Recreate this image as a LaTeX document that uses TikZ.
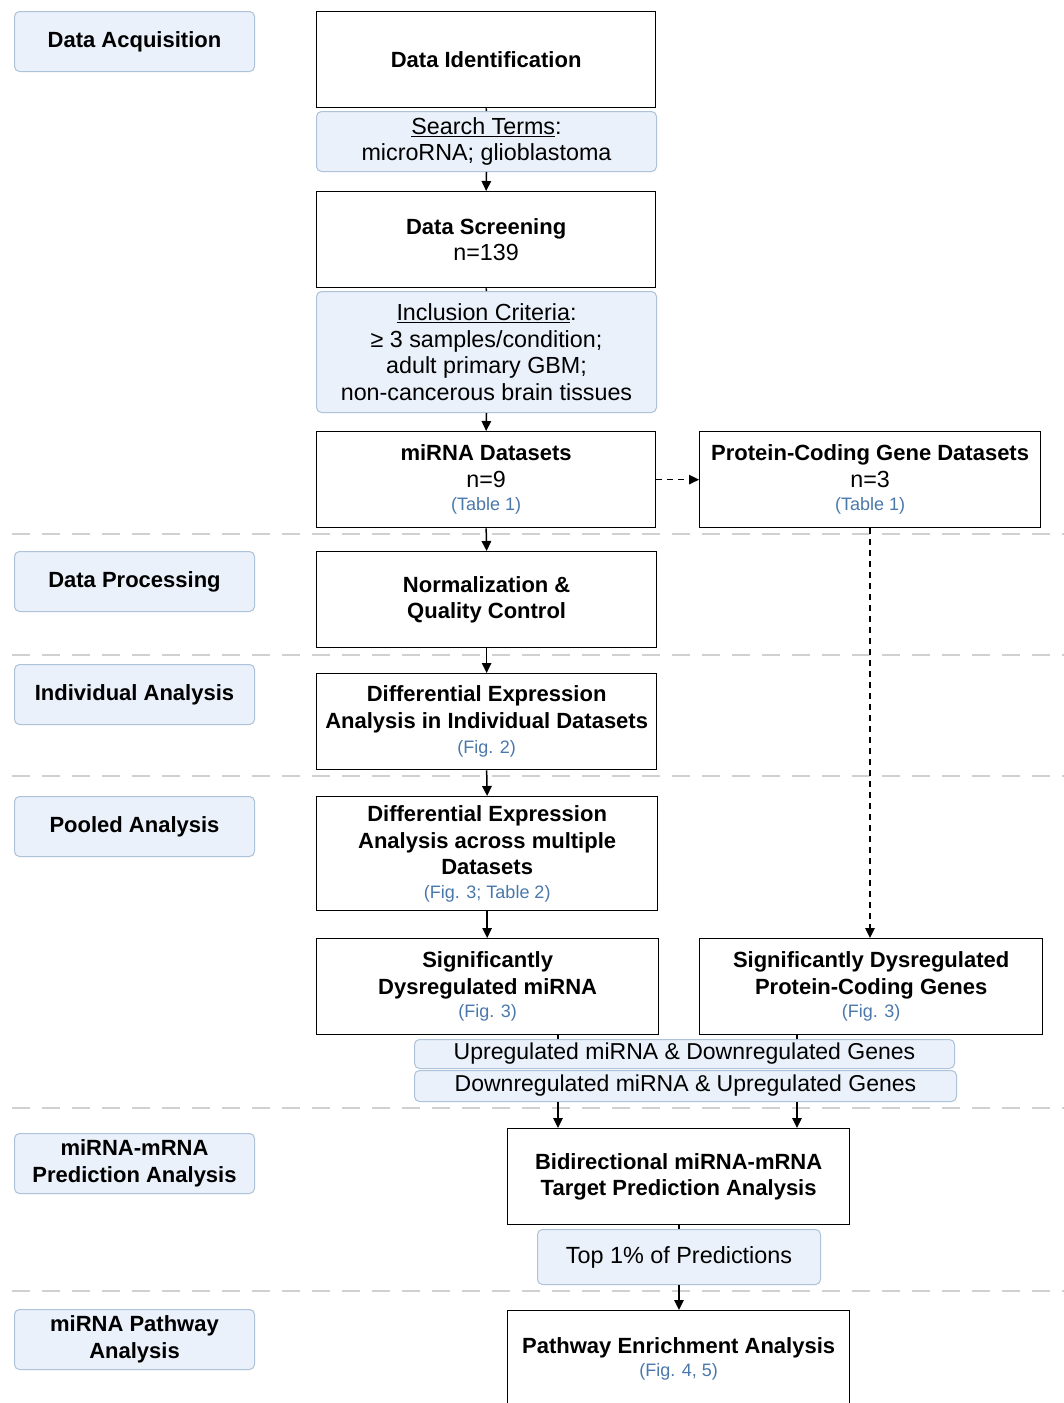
\documentclass[tikz,border=0pt]{standalone}
\usepackage{fontspec}
\setmainfont{Liberation Sans}
\usetikzlibrary{arrows.meta}
\definecolor{lightfill}{HTML}{EAF1FA}
\definecolor{lightborder}{HTML}{AEC2D9}
\definecolor{figblue}{HTML}{4A78AA}
\definecolor{sepgray}{HTML}{D0D0D0}
\newcommand{\refs}[1]{{\color{figblue}\fontsize{18}{20}\mdseries\selectfont #1}}
\newcommand{\bt}{\fontsize{22}{26.5}\selectfont\bfseries}
\begin{document}
\begin{tikzpicture}[x=1pt,y=-1pt,
  mainbox/.style={draw=black, line width=1.3pt, fill=white, anchor=north west, align=center, inner sep=0pt,
    font=\fontsize{23.3}{26.5}\selectfont},
  bluebox/.style={draw=lightborder, line width=1pt, fill=lightfill, rounded corners=5pt, anchor=north west,
    align=center, inner sep=0pt, font=\fontsize{23.3}{26.5}\selectfont},
  stagebox/.style={draw=lightborder, line width=1pt, fill=lightfill, rounded corners=5pt, anchor=north west,
    align=center, inner sep=0pt, minimum width=240pt, minimum height=60pt,
    font=\fontsize{22}{27}\bfseries\selectfont},
  sep/.style={draw=sepgray, line width=1.5pt, dash pattern=on 18pt off 12pt},
  arr/.style={draw=black, line width=1.5pt, -{Triangle[length=10pt,width=9.5pt]}},
  tick/.style={draw=black, line width=1.5pt},
  darr/.style={draw=black, line width=1.5pt, dash pattern=on 6pt off 5pt, -{Triangle[length=10pt,width=9.5pt]}}
]
\clip (0,0) rectangle (1064,1403);
\fill[white] (0,0) rectangle (1064,1403);

% separators
\foreach \yy/\nm in {534/a,655/b,776/c,1108/d,1291/e}{
  \coordinate (sepL\nm) at (12,\yy);
  \coordinate (sepR\nm) at (1064,\yy);
  \draw[sep] (sepL\nm) -- (sepR\nm);
}

% stage labels
\node[stagebox] (st1) at (14,11) {Data Acquisition};
\node[stagebox] (st2) at (14,551) {Data Processing};
\node[stagebox] (st3) at (14,664) {Individual Analysis};
\node[stagebox] (st4) at (14,796) {Pooled Analysis};
\node[stagebox] (st5) at (14,1133) {miRNA-mRNA\\Prediction Analysis};
\node[stagebox] (st6) at (14,1309) {miRNA Pathway\\Analysis};

% main column
\node[mainbox, minimum width=339pt, minimum height=96pt] (ident) at (316,11) {\bt Data Identification};
\node[bluebox, minimum width=340pt, minimum height=60pt] (search) at (316,111) {\underline{Search Terms}:\\microRNA; glioblastoma};
\node[mainbox, minimum width=339pt, minimum height=96pt] (screen) at (316,191) {{\bt Data Screening}\\n=139};
\node[bluebox, minimum width=340pt, minimum height=121pt] (incl) at (316,291) {\underline{Inclusion Criteria}:\\≥ 3 samples/condition;\\adult primary GBM;\\non-cancerous brain tissues};
\node[mainbox, minimum width=339pt, minimum height=96pt] (mirds) at (316,431) {{\bt miRNA Datasets}\\n=9\\[-3pt]\refs{(Table 1)}};
\node[mainbox, minimum width=341pt, minimum height=96pt] (pcds) at (699,431) {{\bt Protein-Coding Gene Datasets}\\n=3\\[-3pt]\refs{(Table 1)}};
\node[mainbox, minimum width=340pt, minimum height=96pt] (norm) at (316,551) {\bt Normalization \&\\\bt Quality Control};
\node[mainbox, minimum width=340pt, minimum height=96pt] (deind) at (316,673) {\bt Differential Expression\\\bt Analysis in Individual Datasets\\[-1pt]\refs{(Fig. 2)}};
\node[mainbox, minimum width=341pt, minimum height=114pt] (depool) at (316,796) {\bt Differential Expression\\\bt Analysis across multiple\\\bt Datasets\\[-3pt]\refs{(Fig. 3; Table 2)}};
\node[mainbox, minimum width=342pt, minimum height=96pt] (sigmir) at (316,938) {\bt Significantly\\\bt Dysregulated miRNA\\[-3pt]\refs{(Fig. 3)}};
\node[mainbox, minimum width=343pt, minimum height=96pt] (sigpc) at (699,938) {\bt Significantly Dysregulated\\\bt Protein-Coding Genes\\[-3pt]\refs{(Fig. 3)}};
\node[bluebox, minimum width=540pt, minimum height=29pt, font=\fontsize{23}{24}\selectfont] (up) at (414,1039) {Upregulated miRNA \& Downregulated Genes};
\node[bluebox, minimum width=542pt, minimum height=31pt, font=\fontsize{23}{24}\selectfont] (down) at (414,1070) {Downregulated miRNA \& Upregulated Genes};
\node[mainbox, minimum width=342pt, minimum height=96pt] (bidir) at (507,1128) {\bt Bidirectional miRNA-mRNA\\\bt Target Prediction Analysis};
\node[bluebox, minimum width=283pt, minimum height=55pt, font=\fontsize{23.4}{26}\selectfont] (top) at (537,1229) {Top 1\% of Predictions};
\node[mainbox, minimum width=342pt, minimum height=96pt] (path) at (507,1310) {\bt Pathway Enrichment Analysis\\[-3pt]\refs{(Fig. 4, 5)}};

% connectors
\draw[tick] (ident.south) -- (search.north);
\draw[arr] (search.south) -- (screen.north);
\draw[tick] (screen.south) -- (incl.north);
\draw[arr] (incl.south) -- (mirds.north);
\draw[darr] (mirds.east) -- (pcds.west);
\draw[arr] (mirds.south) -- (norm.north);
\draw[arr] (norm.south) -- (deind.north);
\draw[arr] (deind.south) -- (depool.north);
\draw[arr] (depool.south) -- (sigmir.north -| depool.south);
\coordinate (pcx) at (870,0);
\draw[darr] (pcds.south -| pcx) -- (sigpc.north -| pcx);
\coordinate (c1) at (558,0);
\coordinate (c2) at (797,0);
\draw[tick] (sigmir.south -| c1) -- (up.north -| c1);
\draw[tick] (sigpc.south -| c2) -- (up.north -| c2);
\draw[arr] (down.south -| c1) -- (bidir.north -| c1);
\draw[arr] (down.south -| c2) -- (bidir.north -| c2);
\coordinate (c3) at (679,0);
\draw[tick] (bidir.south -| c3) -- (top.north -| c3);
\draw[arr] (top.south -| c3) -- (path.north -| c3);
\end{tikzpicture}
\end{document}
